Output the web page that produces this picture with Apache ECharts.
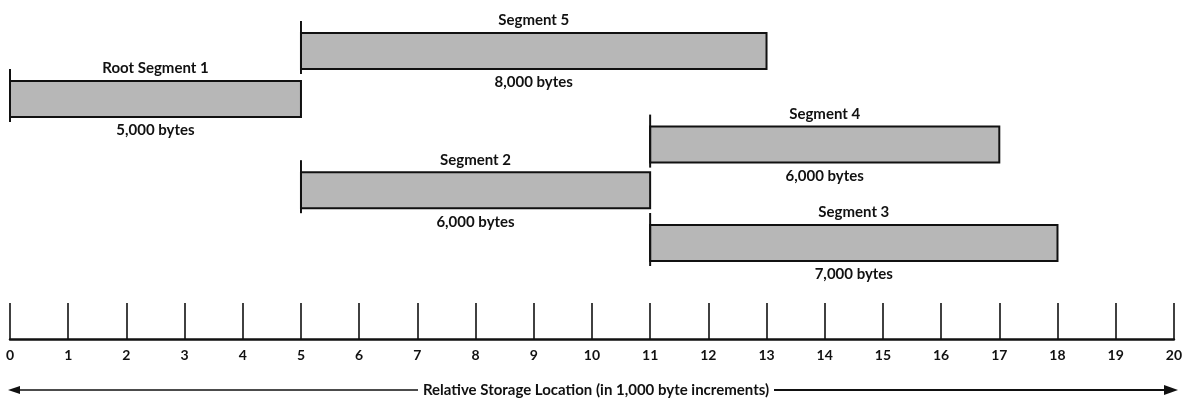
<!DOCTYPE html>
<html>
<head>
<meta charset="utf-8">
<script src="https://cdn.jsdelivr.net/npm/echarts@6/dist/echarts.min.js"></script>
<style>
  html, body { margin: 0; padding: 0; background: #fff; }
  #chart { width: 1185px; height: 400px; }
</style>
</head>
<body>
<div id="chart"></div>
<script>
// segment data (storage in 1,000 byte units)
var segNames = ['Root Segment 1', 'Segment 2', 'Segment 3', 'Segment 4', 'Segment 5'];
var segStart = [0, 5, 11, 11, 5];
var segSize = [5, 6, 7, 6, 8];
var segTier = [5, 3.1, 2, 4.05, 6];
var tickLabels = ['0', '1', '2', '3', '4', '5', '6', '7', '8', '9', '10',
  '11', '12', '13', '14', '15', '16', '17', '18', '19', '20'];
var axisTitle = 'Relative Storage Location (in 1,000 byte increments)';

var FONT = 'Lato';
var TXT = 'bold 15px "' + FONT + '"';
var BAR_H = 36;

var data = segNames.map(function (n, i) {
  return [segStart[i], segStart[i] + segSize[i], segTier[i], n,
    (segSize[i] * 1000).toLocaleString('en-US') + ' bytes'];
});

var chart = echarts.init(document.getElementById('chart'));
chart.setOption({
  animation: false,
  grid: { left: 10, right: 7, top: 3, bottom: 61, containLabel: false },
  xAxis: {
    type: 'value',
    min: 0,
    max: 20,
    interval: 1,
    axisLine: { lineStyle: { color: '#111', width: 2.5 } },
    axisTick: { inside: true, length: 36, lineStyle: { color: '#111', width: 1.6 } },
    axisLabel: {
      color: '#111', fontFamily: FONT, fontWeight: 'bold', fontSize: 14, margin: 9,
      formatter: function (v) { return tickLabels[v]; }
    },
    splitLine: { show: false }
  },
  yAxis: { type: 'value', min: 0, max: 7, show: false },
  series: [{
    type: 'custom',
    data: data,
    encode: { x: [0, 1], y: 2 },
    renderItem: function (params, api) {
      var a = api.coord([api.value(0), api.value(2)]);
      var b = api.coord([api.value(1), api.value(2)]);
      var top = a[1] - BAR_H / 2;
      var bot = a[1] + BAR_H / 2;
      var mid = (a[0] + b[0]) / 2;
      return {
        type: 'group',
        children: [
          { type: 'rect', shape: { x: a[0], y: top, width: b[0] - a[0], height: BAR_H },
            style: { fill: '#b7b7b7', stroke: '#111', lineWidth: 2 } },
          { type: 'line', shape: { x1: a[0], y1: top - 12, x2: a[0], y2: bot + 5 },
            style: { stroke: '#111', lineWidth: 2 } },
          { type: 'text', x: mid, y: top - 5,
            style: { text: api.value(3), fill: '#111', font: TXT,
              align: 'center', verticalAlign: 'bottom' } },
          { type: 'text', x: mid, y: bot + 6,
            style: { text: api.value(4), fill: '#111', font: TXT,
              align: 'center', verticalAlign: 'top' } }
        ]
      };
    }
  }],
  graphic: [
    { type: 'line', shape: { x1: 12, y1: 390, x2: 418, y2: 390 }, style: { stroke: '#111', lineWidth: 1.5 } },
    { type: 'line', shape: { x1: 774, y1: 390, x2: 1168, y2: 390 }, style: { stroke: '#111', lineWidth: 2 } },
    { type: 'polygon', shape: { points: [[8, 390], [20, 386], [20, 394]] }, style: { fill: '#111' } },
    { type: 'polygon', shape: { points: [[1178, 390], [1164, 385], [1164, 395]] }, style: { fill: '#111' } },
    { type: 'text', x: 596, y: 390,
      style: { text: axisTitle, fill: '#111', font: TXT, align: 'center', verticalAlign: 'middle' } }
  ]
});
</script>
</body>
</html>
